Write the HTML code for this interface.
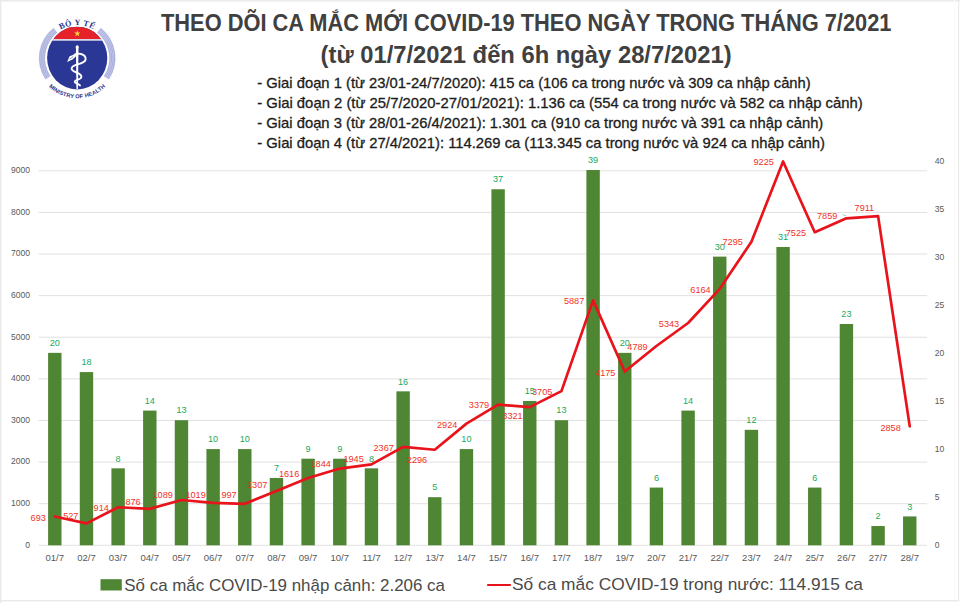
<!DOCTYPE html>
<html lang="vi"><head><meta charset="utf-8">
<title>Theo dõi ca mắc mới COVID-19 tháng 7/2021</title>
<style>
html,body{margin:0;padding:0;background:#fff;}
body{width:960px;height:603px;overflow:hidden;font-family:"Liberation Sans",sans-serif;}
svg{display:block;}
text{font-family:"Liberation Sans",sans-serif;}
.ax{font-size:8.55px;fill:#595959;}
.gl{font-size:9.15px;fill:#1aa85a;}
.rl{font-size:9.15px;fill:#f0321f;}
.ph{font-size:14.8px;fill:#1c1c1c;stroke:#1c1c1c;stroke-width:0.3px;}
.tt{font-size:23px;font-weight:bold;fill:#404040;}
.lg{font-size:17px;fill:#4a4a4a;}
.xl{font-size:9px;fill:#595959;}

</style></head><body>
<svg width="960" height="603" viewBox="0 0 960 603">
<rect x="0" y="0" width="960" height="603" fill="#ffffff"/>
<rect x="0" y="0" width="960" height="1.6" fill="#ebebeb"/>
<rect x="0" y="0" width="1.3" height="603" fill="#e9e9e9"/>
<rect x="958" y="0" width="1.2" height="601.4" fill="#ebebeb"/>
<rect x="954.2" y="0" width="1.2" height="600" fill="#fafafa"/>
<rect x="0" y="600" width="959.2" height="1.4" fill="#e9e9e9"/>
<text class="tt" x="161" y="31.3" textLength="730.5" lengthAdjust="spacingAndGlyphs">THEO DÕI CA MẮC MỚI COVID-19 THEO NGÀY TRONG THÁNG 7/2021</text>
<text class="tt" x="320.6" y="62.5" textLength="411" lengthAdjust="spacingAndGlyphs">(từ 01/7/2021 đến 6h ngày 28/7/2021)</text>
<text class="ph" x="257.3" y="88.0" textLength="553.4" lengthAdjust="spacingAndGlyphs">- Giai đoạn 1 (từ 23/01-24/7/2020): 415 ca (106 ca trong nước và 309 ca nhập cảnh)</text>
<text class="ph" x="257.3" y="108.0" textLength="605.4" lengthAdjust="spacingAndGlyphs">- Giai đoạn 2 (từ 25/7/2020-27/01/2021): 1.136 ca (554 ca trong nước và 582 ca nhập cảnh)</text>
<text class="ph" x="257.3" y="128.0" textLength="566.0" lengthAdjust="spacingAndGlyphs">- Giai đoạn 3 (từ 28/01-26/4/2021): 1.301 ca (910 ca trong nước và 391 ca nhập cảnh)</text>
<text class="ph" x="257.3" y="148.0" textLength="567.7" lengthAdjust="spacingAndGlyphs">- Giai đoạn 4 (từ 27/4/2021): 114.269 ca (113.345 ca trong nước và 924 ca nhập cảnh)</text>
<line x1="38.6" y1="545.30" x2="927.2" y2="545.30" stroke="#e1e1e1" stroke-width="1"/>
<line x1="38.6" y1="503.69" x2="927.2" y2="503.69" stroke="#e1e1e1" stroke-width="1"/>
<line x1="38.6" y1="462.08" x2="927.2" y2="462.08" stroke="#e1e1e1" stroke-width="1"/>
<line x1="38.6" y1="420.47" x2="927.2" y2="420.47" stroke="#e1e1e1" stroke-width="1"/>
<line x1="38.6" y1="378.86" x2="927.2" y2="378.86" stroke="#e1e1e1" stroke-width="1"/>
<line x1="38.6" y1="337.24" x2="927.2" y2="337.24" stroke="#e1e1e1" stroke-width="1"/>
<line x1="38.6" y1="295.63" x2="927.2" y2="295.63" stroke="#e1e1e1" stroke-width="1"/>
<line x1="38.6" y1="254.02" x2="927.2" y2="254.02" stroke="#e1e1e1" stroke-width="1"/>
<line x1="38.6" y1="212.41" x2="927.2" y2="212.41" stroke="#e1e1e1" stroke-width="1"/>
<line x1="38.6" y1="170.80" x2="927.2" y2="170.80" stroke="#e1e1e1" stroke-width="1"/>
<text class="ax" x="29.9" y="547.60" text-anchor="end">0</text>
<text class="ax" x="29.9" y="505.99" text-anchor="end">1000</text>
<text class="ax" x="29.9" y="464.38" text-anchor="end">2000</text>
<text class="ax" x="29.9" y="422.77" text-anchor="end">3000</text>
<text class="ax" x="29.9" y="381.16" text-anchor="end">4000</text>
<text class="ax" x="29.9" y="339.54" text-anchor="end">5000</text>
<text class="ax" x="29.9" y="297.93" text-anchor="end">6000</text>
<text class="ax" x="29.9" y="256.32" text-anchor="end">7000</text>
<text class="ax" x="29.9" y="214.71" text-anchor="end">8000</text>
<text class="ax" x="29.9" y="173.10" text-anchor="end">9000</text>
<text class="ax" x="934.8" y="548.40">0</text>
<text class="ax" x="934.8" y="500.29">5</text>
<text class="ax" x="934.8" y="452.17">10</text>
<text class="ax" x="934.8" y="404.06">15</text>
<text class="ax" x="934.8" y="355.95">20</text>
<text class="ax" x="934.8" y="307.84">25</text>
<text class="ax" x="934.8" y="259.73">30</text>
<text class="ax" x="934.8" y="211.61">35</text>
<text class="ax" x="934.8" y="163.50">40</text>
<rect x="48.10" y="352.85" width="13.40" height="192.45" fill="#4f8633"/>
<rect x="79.77" y="372.09" width="13.40" height="173.20" fill="#4f8633"/>
<rect x="111.43" y="468.32" width="13.40" height="76.98" fill="#4f8633"/>
<rect x="143.10" y="410.58" width="13.40" height="134.71" fill="#4f8633"/>
<rect x="174.76" y="420.21" width="13.40" height="125.09" fill="#4f8633"/>
<rect x="206.43" y="449.07" width="13.40" height="96.23" fill="#4f8633"/>
<rect x="238.09" y="449.07" width="13.40" height="96.23" fill="#4f8633"/>
<rect x="269.75" y="477.94" width="13.40" height="67.36" fill="#4f8633"/>
<rect x="301.42" y="458.70" width="13.40" height="86.60" fill="#4f8633"/>
<rect x="333.09" y="458.70" width="13.40" height="86.60" fill="#4f8633"/>
<rect x="364.75" y="468.32" width="13.40" height="76.98" fill="#4f8633"/>
<rect x="396.42" y="391.34" width="13.40" height="153.96" fill="#4f8633"/>
<rect x="428.08" y="497.19" width="13.40" height="48.11" fill="#4f8633"/>
<rect x="459.75" y="449.07" width="13.40" height="96.23" fill="#4f8633"/>
<rect x="491.41" y="189.27" width="13.40" height="356.03" fill="#4f8633"/>
<rect x="523.07" y="400.96" width="13.40" height="144.34" fill="#4f8633"/>
<rect x="554.74" y="420.21" width="13.40" height="125.09" fill="#4f8633"/>
<rect x="586.40" y="170.02" width="13.40" height="375.28" fill="#4f8633"/>
<rect x="618.07" y="352.85" width="13.40" height="192.45" fill="#4f8633"/>
<rect x="649.73" y="487.56" width="13.40" height="57.74" fill="#4f8633"/>
<rect x="681.40" y="410.58" width="13.40" height="134.71" fill="#4f8633"/>
<rect x="713.06" y="256.62" width="13.40" height="288.67" fill="#4f8633"/>
<rect x="744.73" y="429.83" width="13.40" height="115.47" fill="#4f8633"/>
<rect x="776.39" y="247.00" width="13.40" height="298.30" fill="#4f8633"/>
<rect x="808.06" y="487.56" width="13.40" height="57.74" fill="#4f8633"/>
<rect x="839.72" y="323.98" width="13.40" height="221.32" fill="#4f8633"/>
<rect x="871.39" y="526.05" width="13.40" height="19.25" fill="#4f8633"/>
<rect x="903.05" y="516.43" width="13.40" height="28.87" fill="#4f8633"/>
<text class="gl" x="54.80" y="346.05" text-anchor="middle">20</text>
<text class="gl" x="86.47" y="365.29" text-anchor="middle">18</text>
<text class="gl" x="118.13" y="461.52" text-anchor="middle">8</text>
<text class="gl" x="149.80" y="403.78" text-anchor="middle">14</text>
<text class="gl" x="181.46" y="413.41" text-anchor="middle">13</text>
<text class="gl" x="213.12" y="442.27" text-anchor="middle">10</text>
<text class="gl" x="244.79" y="442.27" text-anchor="middle">10</text>
<text class="gl" x="276.45" y="471.14" text-anchor="middle">7</text>
<text class="gl" x="308.12" y="451.90" text-anchor="middle">9</text>
<text class="gl" x="339.79" y="451.90" text-anchor="middle">9</text>
<text class="gl" x="371.45" y="461.52" text-anchor="middle">8</text>
<text class="gl" x="403.12" y="384.54" text-anchor="middle">16</text>
<text class="gl" x="434.78" y="490.39" text-anchor="middle">5</text>
<text class="gl" x="466.44" y="442.27" text-anchor="middle">10</text>
<text class="gl" x="498.11" y="182.47" text-anchor="middle">37</text>
<text class="gl" x="529.77" y="394.16" text-anchor="middle">15</text>
<text class="gl" x="561.44" y="413.41" text-anchor="middle">13</text>
<text class="gl" x="593.10" y="163.22" text-anchor="middle">39</text>
<text class="gl" x="624.77" y="346.05" text-anchor="middle">20</text>
<text class="gl" x="656.43" y="480.76" text-anchor="middle">6</text>
<text class="gl" x="688.10" y="403.78" text-anchor="middle">14</text>
<text class="gl" x="719.76" y="249.82" text-anchor="middle">30</text>
<text class="gl" x="751.43" y="423.03" text-anchor="middle">12</text>
<text class="gl" x="783.09" y="240.20" text-anchor="middle">31</text>
<text class="gl" x="814.76" y="480.76" text-anchor="middle">6</text>
<text class="gl" x="846.42" y="317.18" text-anchor="middle">23</text>
<text class="gl" x="878.09" y="519.25" text-anchor="middle">2</text>
<text class="gl" x="909.75" y="509.63" text-anchor="middle">3</text>
<text class="xl" x="45.50" y="561.4" textLength="18.6" lengthAdjust="spacingAndGlyphs">01/7</text>
<text class="xl" x="77.17" y="561.4" textLength="18.6" lengthAdjust="spacingAndGlyphs">02/7</text>
<text class="xl" x="108.83" y="561.4" textLength="18.6" lengthAdjust="spacingAndGlyphs">03/7</text>
<text class="xl" x="140.50" y="561.4" textLength="18.6" lengthAdjust="spacingAndGlyphs">04/7</text>
<text class="xl" x="172.16" y="561.4" textLength="18.6" lengthAdjust="spacingAndGlyphs">05/7</text>
<text class="xl" x="203.82" y="561.4" textLength="18.6" lengthAdjust="spacingAndGlyphs">06/7</text>
<text class="xl" x="235.49" y="561.4" textLength="18.6" lengthAdjust="spacingAndGlyphs">07/7</text>
<text class="xl" x="267.15" y="561.4" textLength="18.6" lengthAdjust="spacingAndGlyphs">08/7</text>
<text class="xl" x="298.82" y="561.4" textLength="18.6" lengthAdjust="spacingAndGlyphs">09/7</text>
<text class="xl" x="330.49" y="561.4" textLength="18.6" lengthAdjust="spacingAndGlyphs">10/7</text>
<text class="xl" x="362.15" y="561.4" textLength="18.6" lengthAdjust="spacingAndGlyphs">11/7</text>
<text class="xl" x="393.81" y="561.4" textLength="18.6" lengthAdjust="spacingAndGlyphs">12/7</text>
<text class="xl" x="425.48" y="561.4" textLength="18.6" lengthAdjust="spacingAndGlyphs">13/7</text>
<text class="xl" x="457.14" y="561.4" textLength="18.6" lengthAdjust="spacingAndGlyphs">14/7</text>
<text class="xl" x="488.81" y="561.4" textLength="18.6" lengthAdjust="spacingAndGlyphs">15/7</text>
<text class="xl" x="520.48" y="561.4" textLength="18.6" lengthAdjust="spacingAndGlyphs">16/7</text>
<text class="xl" x="552.14" y="561.4" textLength="18.6" lengthAdjust="spacingAndGlyphs">17/7</text>
<text class="xl" x="583.80" y="561.4" textLength="18.6" lengthAdjust="spacingAndGlyphs">18/7</text>
<text class="xl" x="615.47" y="561.4" textLength="18.6" lengthAdjust="spacingAndGlyphs">19/7</text>
<text class="xl" x="647.13" y="561.4" textLength="18.6" lengthAdjust="spacingAndGlyphs">20/7</text>
<text class="xl" x="678.80" y="561.4" textLength="18.6" lengthAdjust="spacingAndGlyphs">21/7</text>
<text class="xl" x="710.47" y="561.4" textLength="18.6" lengthAdjust="spacingAndGlyphs">22/7</text>
<text class="xl" x="742.13" y="561.4" textLength="18.6" lengthAdjust="spacingAndGlyphs">23/7</text>
<text class="xl" x="773.79" y="561.4" textLength="18.6" lengthAdjust="spacingAndGlyphs">24/7</text>
<text class="xl" x="805.46" y="561.4" textLength="18.6" lengthAdjust="spacingAndGlyphs">25/7</text>
<text class="xl" x="837.12" y="561.4" textLength="18.6" lengthAdjust="spacingAndGlyphs">26/7</text>
<text class="xl" x="868.79" y="561.4" textLength="18.6" lengthAdjust="spacingAndGlyphs">27/7</text>
<text class="xl" x="900.45" y="561.4" textLength="18.6" lengthAdjust="spacingAndGlyphs">28/7</text>
<polyline points="54.80,516.46 86.47,523.37 118.13,507.27 149.80,508.85 181.46,499.99 213.12,502.90 244.79,503.81 276.45,490.91 308.12,478.06 339.79,468.57 371.45,464.37 403.12,446.81 434.78,449.76 466.44,423.63 498.11,404.70 529.77,407.11 561.44,391.13 593.10,300.34 624.77,371.57 656.43,346.02 688.10,322.97 719.76,288.81 751.43,241.75 783.09,161.44 814.76,232.18 846.42,218.28 878.09,216.11 909.75,426.38" fill="none" stroke="#e8131b" stroke-width="2.7" stroke-linejoin="round" stroke-linecap="round"/>
<text class="rl" x="38.2" y="520.7" text-anchor="middle">693</text>
<text class="rl" x="70.8" y="518.6" text-anchor="middle">527</text>
<text class="rl" x="101.2" y="511.3" text-anchor="middle">914</text>
<text class="rl" x="133.0" y="504.5" text-anchor="middle">876</text>
<text class="rl" x="162.7" y="497.8" text-anchor="middle">1089</text>
<text class="rl" x="195.6" y="498.3" text-anchor="middle">1019</text>
<text class="rl" x="229.0" y="498.0" text-anchor="middle">997</text>
<text class="rl" x="257.2" y="488.3" text-anchor="middle">1307</text>
<text class="rl" x="289.1" y="476.5" text-anchor="middle">1616</text>
<text class="rl" x="320.7" y="467.0" text-anchor="middle">1844</text>
<text class="rl" x="353.6" y="462.0" text-anchor="middle">1945</text>
<text class="rl" x="383.7" y="450.8" text-anchor="middle">2367</text>
<text class="rl" x="417.0" y="462.5" text-anchor="middle">2296</text>
<text class="rl" x="447.2" y="427.6" text-anchor="middle">2924</text>
<text class="rl" x="479.0" y="408.3" text-anchor="middle">3379</text>
<text class="rl" x="512.5" y="418.8" text-anchor="middle">3321</text>
<text class="rl" x="542.2" y="395.0" text-anchor="middle">3705</text>
<text class="rl" x="574.1" y="304.0" text-anchor="middle">5887</text>
<text class="rl" x="605.3" y="375.8" text-anchor="middle">4175</text>
<text class="rl" x="637.5" y="349.5" text-anchor="middle">4789</text>
<text class="rl" x="669.0" y="326.8" text-anchor="middle">5343</text>
<text class="rl" x="700.5" y="292.5" text-anchor="middle">6164</text>
<text class="rl" x="732.7" y="245.3" text-anchor="middle">7295</text>
<text class="rl" x="763.7" y="165.0" text-anchor="middle">9225</text>
<text class="rl" x="795.9" y="235.8" text-anchor="middle">7525</text>
<text class="rl" x="827.2" y="218.8" text-anchor="middle">7859</text>
<text class="rl" x="864.4" y="210.8" text-anchor="middle">7911</text>
<text class="rl" x="890.6" y="430.8" text-anchor="middle">2858</text>
<line x1="842.6" y1="214.7" x2="846.2" y2="215.7" stroke="#a4c8e6" stroke-width="1"/>
<rect x="100.5" y="579.2" width="21.3" height="11.3" fill="#4f8633"/>
<text class="lg" x="124.3" y="590.5" textLength="320.7" lengthAdjust="spacingAndGlyphs">Số ca mắc COVID-19 nhập cảnh: 2.206 ca</text>
<line x1="488" y1="585" x2="510" y2="585" stroke="#e8131b" stroke-width="2.2" stroke-linecap="round"/>
<text class="lg" x="512" y="590.3" textLength="351" lengthAdjust="spacingAndGlyphs">Số ca mắc COVID-19 trong nước: 114.915 ca</text>
<g id="logo">
<defs>
<path id="arcTop" d="M 44.20 58.10 A 33.00 33.00 0 0 1 110.20 58.10"/>
<path id="arcBot" d="M 37.00 58.10 A 40.20 40.20 0 0 0 117.40 58.10"/>
<clipPath id="diskClip"><ellipse cx="77.20" cy="58.10" rx="30.10" ry="31.40"/></clipPath>
</defs>
<path d="M 55.53 30.36 A 35.20 35.20 0 0 0 48.02 77.78" fill="none" stroke="#c9cdea" stroke-width="6.4"/>
<path d="M 56.88 32.10 A 33.00 33.00 0 0 0 49.84 76.55" fill="none" stroke="#9aa2d6" stroke-width="0.7"/>
<path d="M 55.96 30.91 A 34.50 34.50 0 0 0 48.60 77.39" fill="none" stroke="#9aa2d6" stroke-width="0.7"/>
<path d="M 55.04 29.73 A 36.00 36.00 0 0 0 47.35 78.23" fill="none" stroke="#9aa2d6" stroke-width="0.7"/>
<path d="M 54.11 28.55 A 37.50 37.50 0 0 0 46.11 79.07" fill="none" stroke="#9aa2d6" stroke-width="0.7"/>
<path d="M 98.87 30.36 A 35.20 35.20 0 0 1 106.38 77.78" fill="none" stroke="#c9cdea" stroke-width="6.4"/>
<path d="M 97.52 32.10 A 33.00 33.00 0 0 1 104.56 76.55" fill="none" stroke="#9aa2d6" stroke-width="0.7"/>
<path d="M 98.44 30.91 A 34.50 34.50 0 0 1 105.80 77.39" fill="none" stroke="#9aa2d6" stroke-width="0.7"/>
<path d="M 99.36 29.73 A 36.00 36.00 0 0 1 107.05 78.23" fill="none" stroke="#9aa2d6" stroke-width="0.7"/>
<path d="M 100.29 28.55 A 37.50 37.50 0 0 1 108.29 79.07" fill="none" stroke="#9aa2d6" stroke-width="0.7"/>
<ellipse cx="77.20" cy="58.10" rx="31.50" ry="32.80" fill="#ffffff"/>
<ellipse cx="77.20" cy="58.10" rx="30.10" ry="31.40" fill="#2b3794"/>
<g clip-path="url(#diskClip)">
<rect x="45.80" y="26.70" width="62.80" height="12.50" fill="#e5222a"/>
<rect x="45.80" y="39.2" width="62.80" height="1.4" fill="#ffffff"/>
</g>
<polygon points="77.30,30.30 78.09,32.51 80.44,32.58 78.58,34.02 79.24,36.27 77.30,34.95 75.36,36.27 76.02,34.02 74.16,32.58 76.51,32.51" fill="#ffd23a"/>
<polygon points="75.9,47 78.5,47 77.95,89.2 76.45,89.2" fill="#ffffff"/>
<circle cx="77.2" cy="46.9" r="1.55" fill="#ffffff"/>
<path d="M 74.6 54.8 C 77.0 52.8, 85.8 53.2, 85.6 59.4 C 85.4 64.8, 71.8 63.4, 71.6 68.4 C 71.4 72.8, 81.6 72.2, 81.4 76.8 C 81.2 80.4, 75.2 79.0, 74.7 81.7 C 74.4 83.4, 78.4 83.4, 80.0 85.4" fill="none" stroke="#ffffff" stroke-width="1.9" stroke-linecap="round" stroke-linejoin="round"/>
<path d="M 75.4 53.9 L 69.6 56.2 L 67.1 62.0 L 72.4 59.4 L 75.9 56.6 Z" fill="#ffffff"/>
<path d="M 69.6 59.2 L 73.2 56.6" stroke="#2b3794" stroke-width="0.55" fill="none"/>
<text style="font-family:'Liberation Serif',serif;font-weight:bold;font-size:8.2px;fill:#28348c;letter-spacing:0.4px" text-anchor="middle"><textPath href="#arcTop" startOffset="50%">BỘ Y TẾ</textPath></text>
<text style="font-family:'Liberation Sans',sans-serif;font-weight:bold;font-size:5.7px;fill:#28348c;letter-spacing:0.12px" text-anchor="middle"><textPath href="#arcBot" startOffset="50%">MINISTRY OF HEALTH</textPath></text>
</g>
</svg>
</body></html>
